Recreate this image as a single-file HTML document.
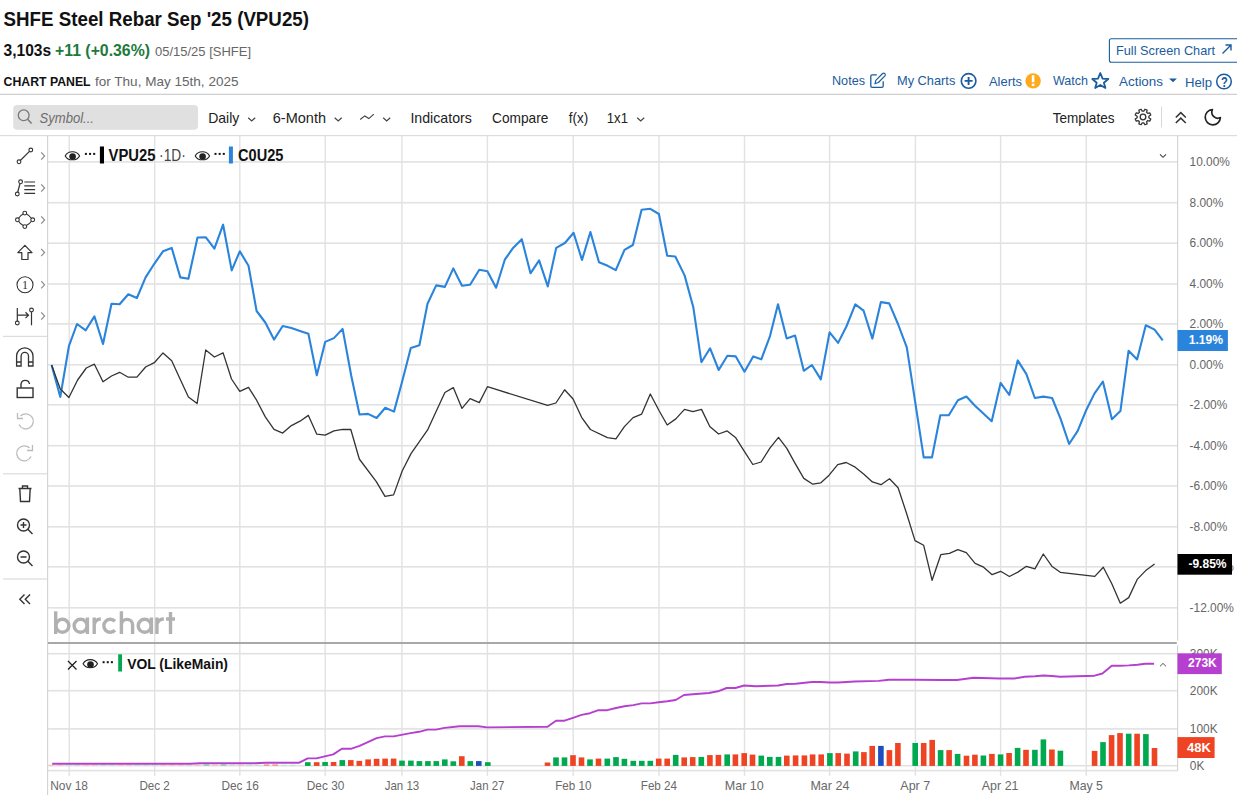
<!DOCTYPE html>
<html><head><meta charset="utf-8"><title>SHFE Steel Rebar Sep '25 (VPU25) Chart</title>
<style>
html,body{margin:0;padding:0;background:#fff;width:1237px;height:795px;overflow:hidden;}
svg{display:block;font-family:"Liberation Sans", sans-serif;}
</style></head><body>
<svg width="1237" height="795" viewBox="0 0 1237 795">
<text x="3.6" y="25.9" font-size="20" fill="#111" font-weight="bold" font-style="normal" text-anchor="start" textLength="305.4" lengthAdjust="spacingAndGlyphs" >SHFE Steel Rebar Sep '25 (VPU25)</text>
<text x="3.6" y="56" font-size="16" fill="#111" font-weight="bold" font-style="normal" text-anchor="start" textLength="47.5" lengthAdjust="spacingAndGlyphs" >3,103s</text>
<text x="55" y="56" font-size="16" fill="#1d7a3c" font-weight="bold" font-style="normal" text-anchor="start" textLength="95" lengthAdjust="spacingAndGlyphs" >+11 (+0.36%)</text>
<text x="155" y="56.1" font-size="13.5" fill="#666" font-weight="normal" font-style="normal" text-anchor="start" textLength="96" lengthAdjust="spacingAndGlyphs" >05/15/25 [SHFE]</text>
<text x="3.6" y="85.9" font-size="13.2" fill="#111" font-weight="bold" font-style="normal" text-anchor="start" textLength="87" lengthAdjust="spacingAndGlyphs" >CHART PANEL</text>
<text x="95" y="85.9" font-size="13.2" fill="#666" font-weight="normal" font-style="normal" text-anchor="start" textLength="143.5" lengthAdjust="spacingAndGlyphs" >for Thu, May 15th, 2025</text>
<rect x="0" y="93.7" width="1237" height="1.3" fill="#d0d0d0"/>
<rect x="1109.4" y="38.7" width="130" height="23.5" rx="2" fill="#fff" stroke="#1a5c9e" stroke-width="1.1"/>
<text x="1116" y="54.8" font-size="13" fill="#1a5c9e" font-weight="normal" font-style="normal" text-anchor="start" textLength="99" lengthAdjust="spacingAndGlyphs" >Full Screen Chart</text>
<path d="M1222.5 53.5 L1231 45 M1225.5 45 H1231 V50.5" stroke="#1a5c9e" stroke-width="1.4" fill="none"/>
<text x="832" y="84.8" font-size="13" fill="#1a5c9e" font-weight="normal" font-style="normal" text-anchor="start" textLength="33" lengthAdjust="spacingAndGlyphs" >Notes</text>
<path d="M876.8 74.8 H872.2 Q870.8 74.8 870.8 76.2 V86 Q870.8 87.3 872.2 87.3 H881.8 Q883.2 87.3 883.2 86 V81.3" fill="none" stroke="#1a5c9e" stroke-width="1.3"/><path d="M875 83.8 L875.8 80.3 L882.6 73.5 Q883.8 72.6 884.9 73.6 Q885.8 74.7 884.9 75.8 L878.4 82.5 Z" fill="none" stroke="#1a5c9e" stroke-width="1.2" stroke-linejoin="round"/>
<text x="897" y="84.8" font-size="13" fill="#1a5c9e" font-weight="normal" font-style="normal" text-anchor="start" textLength="58.3" lengthAdjust="spacingAndGlyphs" >My Charts</text>
<circle cx="968.6" cy="80.9" r="7.3" fill="none" stroke="#1a5c9e" stroke-width="1.6"/><path d="M964.6 80.9 H972.6 M968.6 76.9 V84.9" stroke="#1a5c9e" stroke-width="1.9"/>
<text x="989" y="85.6" font-size="13" fill="#1a5c9e" font-weight="normal" font-style="normal" text-anchor="start" textLength="33" lengthAdjust="spacingAndGlyphs" >Alerts</text>
<circle cx="1033.1" cy="80.9" r="7.7" fill="#fdaa1c"/><rect x="1031.8" y="75.2" width="2.6" height="7" fill="#fff"/><rect x="1031.8" y="83.6" width="2.6" height="2.4" fill="#fff"/>
<text x="1053" y="84.6" font-size="13" fill="#1a5c9e" font-weight="normal" font-style="normal" text-anchor="start" textLength="35" lengthAdjust="spacingAndGlyphs" >Watch</text>
<path d="M1100.3 73 L1102.6 78.6 L1108.3 79 L1103.9 82.7 L1105.4 88 L1100.3 85 L1095.2 88 L1096.7 82.7 L1092.3 79 L1098 78.6 Z" fill="none" stroke="#1a5c9e" stroke-width="1.8" stroke-linejoin="round"/>
<text x="1119" y="85.9" font-size="13" fill="#1a5c9e" font-weight="normal" font-style="normal" text-anchor="start" textLength="44" lengthAdjust="spacingAndGlyphs" >Actions</text>
<path d="M1169 78.5 H1177 L1173 82.3 Z" fill="#1a5c9e"/>
<text x="1185" y="87.1" font-size="13" fill="#1a5c9e" font-weight="normal" font-style="normal" text-anchor="start" textLength="27" lengthAdjust="spacingAndGlyphs" >Help</text>
<circle cx="1224" cy="81.5" r="7.3" fill="none" stroke="#1a5c9e" stroke-width="1.5"/>
<text x="1224.3" y="86.7" font-size="14.5" fill="#1a5c9e" font-weight="bold" font-style="normal" text-anchor="middle" textLength="6.8" lengthAdjust="spacingAndGlyphs" >?</text>
<rect x="13.2" y="105" width="184.8" height="24.8" rx="4" fill="#e0e0e0"/>
<circle cx="23.7" cy="115.3" r="5.4" fill="none" stroke="#777" stroke-width="1.3"/><path d="M27.6 119.3 L31.6 123.6" stroke="#777" stroke-width="1.4"/>
<text x="39.5" y="122.6" font-size="14" fill="#6e6e6e" font-weight="normal" font-style="italic" text-anchor="start" textLength="54.5" lengthAdjust="spacingAndGlyphs" >Symbol...</text>
<text x="208.2" y="122.8" font-size="14.4" fill="#222" font-weight="normal" font-style="normal" text-anchor="start" textLength="31.2" lengthAdjust="spacingAndGlyphs" >Daily</text>
<path d="M248.2 117.7 L251.7 121.0 L255.2 117.7" fill="none" stroke="#444" stroke-width="1.2"/>
<text x="272.8" y="122.8" font-size="14.4" fill="#222" font-weight="normal" font-style="normal" text-anchor="start" textLength="53.2" lengthAdjust="spacingAndGlyphs" >6-Month</text>
<path d="M334.7 117.7 L338.2 121.0 L341.7 117.7" fill="none" stroke="#444" stroke-width="1.2"/>
<path d="M360.2 119.5 L364.7 115.9 L368.9 118.6 L373.8 114.1" fill="none" stroke="#444" stroke-width="1.2"/>
<path d="M383.2 117.7 L386.7 121.0 L390.2 117.7" fill="none" stroke="#444" stroke-width="1.2"/>
<text x="410.4" y="122.8" font-size="14.4" fill="#222" font-weight="normal" font-style="normal" text-anchor="start" textLength="61.5" lengthAdjust="spacingAndGlyphs" >Indicators</text>
<text x="492" y="122.8" font-size="14.4" fill="#222" font-weight="normal" font-style="normal" text-anchor="start" textLength="56.3" lengthAdjust="spacingAndGlyphs" >Compare</text>
<text x="568.8" y="122.8" font-size="14.4" fill="#222" font-weight="normal" font-style="normal" text-anchor="start" textLength="19.4" lengthAdjust="spacingAndGlyphs" >f(x)</text>
<text x="606.8" y="122.8" font-size="14.4" fill="#222" font-weight="normal" font-style="normal" text-anchor="start" textLength="21.2" lengthAdjust="spacingAndGlyphs" >1x1</text>
<path d="M637.2 117.7 L640.7 121.0 L644.2 117.7" fill="none" stroke="#444" stroke-width="1.2"/>
<text x="1052.7" y="123.1" font-size="14.4" fill="#222" font-weight="normal" font-style="normal" text-anchor="start" textLength="61.8" lengthAdjust="spacingAndGlyphs" >Templates</text>
<polygon points="1148.85,117.77 1150.76,118.94 1149.86,121.12 1147.68,120.59 1146.59,121.68 1147.12,123.86 1144.94,124.76 1143.77,122.85 1142.23,122.85 1141.06,124.76 1138.88,123.86 1139.41,121.68 1138.32,120.59 1136.14,121.12 1135.24,118.94 1137.15,117.77 1137.15,116.23 1135.24,115.06 1136.14,112.88 1138.32,113.41 1139.41,112.32 1138.88,110.14 1141.06,109.24 1142.23,111.15 1143.77,111.15 1144.94,109.24 1147.12,110.14 1146.59,112.32 1147.68,113.41 1149.86,112.88 1150.76,115.06 1148.85,116.23" fill="none" stroke="#333" stroke-width="1.3" stroke-linejoin="round"/><circle cx="1143" cy="117" r="2.8" fill="none" stroke="#333" stroke-width="1.3"/>
<rect x="1161" y="106.4" width="1" height="21" fill="#d8d8d8"/>
<path d="M1175.8 117.5 L1180.8 112.6 L1185.8 117.5 M1175.8 123 L1180.8 118.1 L1185.8 123" fill="none" stroke="#333" stroke-width="1.5"/>
<path d="M1212.4 109.6 A7.6 7.6 0 1 0 1220.4 117.6 A6 6 0 0 1 1212.4 109.6 Z" fill="none" stroke="#222" stroke-width="1.7" stroke-linejoin="round"/>
<rect x="0" y="135" width="1237" height="1.2" fill="#dcdcdc"/>
<rect x="68.5" y="136" width="1.4" height="639.8" fill="#e2e2e2"/>
<rect x="154.0" y="136" width="1.4" height="639.8" fill="#e2e2e2"/>
<rect x="239.10000000000002" y="136" width="1.4" height="639.8" fill="#e2e2e2"/>
<rect x="324.5" y="136" width="1.4" height="639.8" fill="#e2e2e2"/>
<rect x="401.2" y="136" width="1.4" height="639.8" fill="#e2e2e2"/>
<rect x="486.7" y="136" width="1.4" height="639.8" fill="#e2e2e2"/>
<rect x="572.5" y="136" width="1.4" height="639.8" fill="#e2e2e2"/>
<rect x="658.3" y="136" width="1.4" height="639.8" fill="#e2e2e2"/>
<rect x="743.8" y="136" width="1.4" height="639.8" fill="#e2e2e2"/>
<rect x="828.9" y="136" width="1.4" height="639.8" fill="#e2e2e2"/>
<rect x="914.6999999999999" y="136" width="1.4" height="639.8" fill="#e2e2e2"/>
<rect x="999.9" y="136" width="1.4" height="639.8" fill="#e2e2e2"/>
<rect x="1085.6" y="136" width="1.4" height="639.8" fill="#e2e2e2"/>
<rect x="48" y="161.1" width="1129.5" height="1.6" fill="#e2e2e2"/>
<text x="1189.6" y="166.1" font-size="11.9" fill="#666" font-weight="normal" font-style="normal" text-anchor="start" >10.00%</text>
<rect x="48" y="201.89999999999998" width="1129.5" height="1.6" fill="#e2e2e2"/>
<text x="1189.6" y="206.89999999999998" font-size="11.9" fill="#666" font-weight="normal" font-style="normal" text-anchor="start" >8.00%</text>
<rect x="48" y="242.39999999999998" width="1129.5" height="1.6" fill="#e2e2e2"/>
<text x="1189.6" y="247.39999999999998" font-size="11.9" fill="#666" font-weight="normal" font-style="normal" text-anchor="start" >6.00%</text>
<rect x="48" y="283.2" width="1129.5" height="1.6" fill="#e2e2e2"/>
<text x="1189.6" y="288.2" font-size="11.9" fill="#666" font-weight="normal" font-style="normal" text-anchor="start" >4.00%</text>
<rect x="48" y="323.09999999999997" width="1129.5" height="1.6" fill="#e2e2e2"/>
<text x="1189.6" y="328.09999999999997" font-size="11.9" fill="#666" font-weight="normal" font-style="normal" text-anchor="start" >2.00%</text>
<rect x="48" y="364.0" width="1129.5" height="1.6" fill="#e2e2e2"/>
<text x="1189.6" y="369.0" font-size="11.9" fill="#666" font-weight="normal" font-style="normal" text-anchor="start" >0.00%</text>
<rect x="48" y="404.0" width="1129.5" height="1.6" fill="#e2e2e2"/>
<text x="1189.6" y="409.0" font-size="11.9" fill="#666" font-weight="normal" font-style="normal" text-anchor="start" >-2.00%</text>
<rect x="48" y="444.9" width="1129.5" height="1.6" fill="#e2e2e2"/>
<text x="1189.6" y="449.9" font-size="11.9" fill="#666" font-weight="normal" font-style="normal" text-anchor="start" >-4.00%</text>
<rect x="48" y="485.2" width="1129.5" height="1.6" fill="#e2e2e2"/>
<text x="1189.6" y="490.2" font-size="11.9" fill="#666" font-weight="normal" font-style="normal" text-anchor="start" >-6.00%</text>
<rect x="48" y="526.0" width="1129.5" height="1.6" fill="#e2e2e2"/>
<text x="1189.6" y="531.0" font-size="11.9" fill="#666" font-weight="normal" font-style="normal" text-anchor="start" >-8.00%</text>
<rect x="48" y="566.0" width="1129.5" height="1.6" fill="#e2e2e2"/>
<text x="1189.6" y="571.0" font-size="11.9" fill="#666" font-weight="normal" font-style="normal" text-anchor="start" >-10.00%</text>
<rect x="48" y="607.0" width="1129.5" height="1.6" fill="#e2e2e2"/>
<text x="1189.6" y="612.0" font-size="11.9" fill="#666" font-weight="normal" font-style="normal" text-anchor="start" >-12.00%</text>
<rect x="48" y="652.9000000000001" width="1129.5" height="1.6" fill="#e2e2e2"/>
<rect x="48" y="689.9000000000001" width="1129.5" height="1.6" fill="#e2e2e2"/>
<rect x="48" y="728.1" width="1129.5" height="1.6" fill="#e2e2e2"/>
<rect x="48" y="764.9000000000001" width="1129.5" height="1.6" fill="#e2e2e2"/>
<rect x="48" y="769.8000000000001" width="1129.5" height="1.6" fill="#e2e2e2"/>
<rect x="47" y="136" width="1.2" height="659" fill="#d4d4d4"/>
<rect x="1177" y="136" width="1.2" height="635" fill="#d4d4d4"/>
<rect x="48" y="642" width="1129.5" height="2" fill="#a8a8a8"/><rect x="1176.8" y="640.5" width="1.6" height="5" fill="#fff"/>
<rect x="305.0" y="762.2" width="5.6" height="3.7" fill="#00a84f"/>
<rect x="313.9" y="762.2" width="5.6" height="3.7" fill="#ee4423"/>
<rect x="322.3" y="762.0" width="5.6" height="3.9" fill="#00a84f"/>
<rect x="330.8" y="762.0" width="5.6" height="3.9" fill="#ee4423"/>
<rect x="339.5" y="760.1" width="5.6" height="5.8" fill="#00a84f"/>
<rect x="348.0" y="760.1" width="5.6" height="5.8" fill="#ee4423"/>
<rect x="356.5" y="760.9" width="5.6" height="5.0" fill="#ee4423"/>
<rect x="365.3" y="759.4" width="5.6" height="6.5" fill="#ee4423"/>
<rect x="373.8" y="758.8" width="5.6" height="7.1" fill="#ee4423"/>
<rect x="382.3" y="758.6" width="5.6" height="7.3" fill="#ee4423"/>
<rect x="390.8" y="758.6" width="5.6" height="7.3" fill="#ee4423"/>
<rect x="399.2" y="760.6" width="5.6" height="5.3" fill="#00a84f"/>
<rect x="408.1" y="760.6" width="5.6" height="5.3" fill="#00a84f"/>
<rect x="416.6" y="761.1" width="5.6" height="4.8" fill="#00a84f"/>
<rect x="425.1" y="761.1" width="5.6" height="4.8" fill="#00a84f"/>
<rect x="433.5" y="761.1" width="5.6" height="4.8" fill="#00a84f"/>
<rect x="442.0" y="759.4" width="5.6" height="6.5" fill="#00a84f"/>
<rect x="450.5" y="761.3" width="5.6" height="4.6" fill="#00a84f"/>
<rect x="459.0" y="756.2" width="5.6" height="9.7" fill="#ee4423"/>
<rect x="467.5" y="761.1" width="5.6" height="4.8" fill="#00a84f"/>
<rect x="476.0" y="761.1" width="5.6" height="4.8" fill="#1f4fbf"/>
<rect x="485.0" y="762.2" width="5.6" height="3.7" fill="#00a84f"/>
<rect x="544.7" y="762.5" width="5.6" height="3.4" fill="#ee4423"/>
<rect x="553.2" y="757.4" width="5.6" height="8.5" fill="#00a84f"/>
<rect x="561.7" y="757.4" width="5.6" height="8.5" fill="#00a84f"/>
<rect x="570.2" y="755.2" width="5.6" height="10.7" fill="#ee4423"/>
<rect x="578.7" y="757.4" width="5.6" height="8.5" fill="#ee4423"/>
<rect x="587.2" y="759.4" width="5.6" height="6.5" fill="#00a84f"/>
<rect x="595.7" y="758.6" width="5.6" height="7.3" fill="#ee4423"/>
<rect x="604.5" y="758.6" width="5.6" height="7.3" fill="#00a84f"/>
<rect x="613.2" y="757.1" width="5.6" height="8.8" fill="#00a84f"/>
<rect x="621.6" y="758.8" width="5.6" height="7.1" fill="#00a84f"/>
<rect x="630.5" y="760.8" width="5.6" height="5.1" fill="#00a84f"/>
<rect x="639.0" y="760.8" width="5.6" height="5.1" fill="#00a84f"/>
<rect x="647.5" y="760.8" width="5.6" height="5.1" fill="#00a84f"/>
<rect x="655.9" y="758.6" width="5.6" height="7.3" fill="#ee4423"/>
<rect x="664.4" y="758.6" width="5.6" height="7.3" fill="#ee4423"/>
<rect x="672.9" y="754.9" width="5.6" height="11.0" fill="#00a84f"/>
<rect x="681.4" y="757.4" width="5.6" height="8.5" fill="#ee4423"/>
<rect x="689.9" y="757.1" width="5.6" height="8.8" fill="#ee4423"/>
<rect x="698.5" y="756.9" width="5.6" height="9.0" fill="#00a84f"/>
<rect x="707.1" y="755.1" width="5.6" height="10.8" fill="#ee4423"/>
<rect x="715.6" y="754.9" width="5.6" height="11.0" fill="#ee4423"/>
<rect x="724.4" y="754.4" width="5.6" height="11.5" fill="#00a84f"/>
<rect x="732.6" y="754.4" width="5.6" height="11.5" fill="#ee4423"/>
<rect x="741.4" y="753.1" width="5.6" height="12.8" fill="#ee4423"/>
<rect x="749.7" y="754.6" width="5.6" height="11.3" fill="#ee4423"/>
<rect x="758.5" y="755.6" width="5.6" height="10.3" fill="#00a84f"/>
<rect x="767.0" y="756.9" width="5.6" height="9.0" fill="#00a84f"/>
<rect x="775.7" y="756.9" width="5.6" height="9.0" fill="#00a84f"/>
<rect x="784.0" y="755.6" width="5.6" height="10.3" fill="#ee4423"/>
<rect x="792.8" y="755.4" width="5.6" height="10.5" fill="#ee4423"/>
<rect x="801.6" y="755.4" width="5.6" height="10.5" fill="#ee4423"/>
<rect x="809.8" y="754.4" width="5.6" height="11.5" fill="#ee4423"/>
<rect x="818.4" y="754.4" width="5.6" height="11.5" fill="#ee4423"/>
<rect x="827.1" y="753.1" width="5.6" height="12.8" fill="#00a84f"/>
<rect x="835.4" y="753.1" width="5.6" height="12.8" fill="#ee4423"/>
<rect x="844.2" y="753.6" width="5.6" height="12.3" fill="#ee4423"/>
<rect x="852.9" y="751.4" width="5.6" height="14.5" fill="#00a84f"/>
<rect x="861.1" y="752.1" width="5.6" height="13.8" fill="#ee4423"/>
<rect x="869.4" y="745.9" width="5.6" height="20.0" fill="#ee4423"/>
<rect x="878.1" y="745.9" width="5.6" height="20.0" fill="#1f4fbf"/>
<rect x="886.6" y="750.1" width="5.6" height="15.8" fill="#ee4423"/>
<rect x="895.1" y="743.0" width="5.6" height="22.9" fill="#ee4423"/>
<rect x="912.4" y="743.0" width="5.6" height="22.9" fill="#00a84f"/>
<rect x="920.9" y="743.0" width="5.6" height="22.9" fill="#ee4423"/>
<rect x="929.4" y="739.9" width="5.6" height="26.0" fill="#ee4423"/>
<rect x="937.8" y="750.1" width="5.6" height="15.8" fill="#00a84f"/>
<rect x="946.3" y="750.1" width="5.6" height="15.8" fill="#ee4423"/>
<rect x="954.8" y="753.9" width="5.6" height="12.0" fill="#00a84f"/>
<rect x="963.7" y="755.7" width="5.6" height="10.2" fill="#ee4423"/>
<rect x="972.1" y="754.7" width="5.6" height="11.2" fill="#ee4423"/>
<rect x="980.6" y="755.5" width="5.6" height="10.4" fill="#00a84f"/>
<rect x="989.1" y="753.9" width="5.6" height="12.0" fill="#ee4423"/>
<rect x="997.8" y="754.4" width="5.6" height="11.5" fill="#00a84f"/>
<rect x="1006.3" y="753.0" width="5.6" height="12.9" fill="#ee4423"/>
<rect x="1014.8" y="747.9" width="5.6" height="18.0" fill="#00a84f"/>
<rect x="1023.2" y="749.8" width="5.6" height="16.1" fill="#ee4423"/>
<rect x="1032.1" y="749.8" width="5.6" height="16.1" fill="#00a84f"/>
<rect x="1040.6" y="739.4" width="5.6" height="26.5" fill="#00a84f"/>
<rect x="1049.1" y="749.5" width="5.6" height="16.4" fill="#ee4423"/>
<rect x="1057.6" y="750.7" width="5.6" height="15.2" fill="#00a84f"/>
<rect x="1091.8" y="750.9" width="5.6" height="15.0" fill="#ee4423"/>
<rect x="1100.2" y="742.1" width="5.6" height="23.8" fill="#00a84f"/>
<rect x="1108.8" y="735.1" width="5.6" height="30.8" fill="#ee4423"/>
<rect x="1117.2" y="733.1" width="5.6" height="32.8" fill="#ee4423"/>
<rect x="1125.9" y="733.7" width="5.6" height="32.2" fill="#00a84f"/>
<rect x="1134.3" y="733.7" width="5.6" height="32.2" fill="#ee4423"/>
<rect x="1143.1" y="734.1" width="5.6" height="31.8" fill="#00a84f"/>
<rect x="1151.7" y="748.0" width="5.6" height="17.9" fill="#ee4423"/>
<rect x="48.8" y="764.7" width="5.6" height="1.2" fill="#f3c5bb"/>
<rect x="57.4" y="764.7" width="5.6" height="1.2" fill="#f3c5bb"/>
<rect x="66.0" y="764.7" width="5.6" height="1.2" fill="#bfe3cb"/>
<rect x="74.6" y="764.7" width="5.6" height="1.2" fill="#bfe3cb"/>
<rect x="83.2" y="764.7" width="5.6" height="1.2" fill="#f3c5bb"/>
<rect x="91.8" y="764.7" width="5.6" height="1.2" fill="#f3c5bb"/>
<rect x="100.4" y="764.7" width="5.6" height="1.2" fill="#bfe3cb"/>
<rect x="109.0" y="764.7" width="5.6" height="1.2" fill="#bfe3cb"/>
<rect x="117.6" y="764.7" width="5.6" height="1.2" fill="#f3c5bb"/>
<rect x="126.2" y="764.7" width="5.6" height="1.2" fill="#f3c5bb"/>
<rect x="134.8" y="764.7" width="5.6" height="1.2" fill="#bfe3cb"/>
<rect x="143.4" y="764.7" width="5.6" height="1.2" fill="#bfe3cb"/>
<rect x="152.0" y="764.7" width="5.6" height="1.2" fill="#bfe3cb"/>
<rect x="160.6" y="764.7" width="5.6" height="1.2" fill="#f3c5bb"/>
<rect x="169.2" y="764.7" width="5.6" height="1.2" fill="#f3c5bb"/>
<rect x="177.8" y="764.7" width="5.6" height="1.2" fill="#f3c5bb"/>
<rect x="186.4" y="764.7" width="5.6" height="1.2" fill="#bfe3cb"/>
<rect x="195.0" y="764.7" width="5.6" height="1.2" fill="#f3c5bb"/>
<rect x="203.6" y="764.3" width="5.6" height="1.6" fill="#8fd3a8"/>
<rect x="212.2" y="764.7" width="5.6" height="1.2" fill="#f3c5bb"/>
<rect x="220.8" y="764.3" width="5.6" height="1.6" fill="#8fd3a8"/>
<rect x="229.4" y="764.7" width="5.6" height="1.2" fill="#bfe3cb"/>
<rect x="238.0" y="764.7" width="5.6" height="1.2" fill="#f3c5bb"/>
<rect x="246.6" y="764.7" width="5.6" height="1.2" fill="#bfe3cb"/>
<rect x="255.2" y="764.7" width="5.6" height="1.2" fill="#bfe3cb"/>
<rect x="263.8" y="764.3" width="5.6" height="1.6" fill="#f29a85"/>
<rect x="272.4" y="764.3" width="5.6" height="1.6" fill="#f29a85"/>
<rect x="281.0" y="764.7" width="5.6" height="1.2" fill="#bfe3cb"/>
<rect x="289.6" y="764.7" width="5.6" height="1.2" fill="#bfe3cb"/>
<polyline points="52.2,763.8 190,763.8 200,763.2 255,763.2 265,762.7 299.3,762.7 307.8,758.4 316.3,758.4 333.3,754.4 341.8,748.8 350.8,748.8 359.6,745.9 376.6,738.1 385.1,736.4 393.6,736.4 410.5,733.1 419,731.8 427.5,729.6 436,729.6 444.5,727.9 459.8,726.2 478.5,726.2 487,727.4 547.5,726.7 556,720.7 564.5,720.7 573,717.8 581.5,714.9 590,713.2 598.5,710.2 607.3,710.2 616,708 624.4,706.3 633.3,705.1 641.8,703.4 650.3,703.4 658.7,702.2 667.2,701.2 675.7,700 684,695 692.8,694.3 709,693 717.9,691.3 726.7,688 735.4,688 744.2,685.5 755.5,686.3 778,685.5 786.8,684 795.6,683.8 811.9,682 820.7,682 829.9,682.5 838.2,682.5 854.5,681.5 878.7,680.9 888.9,679.7 914.3,679.7 941.5,680 956.8,680 973.8,677.7 999.2,678.5 1014.5,678.5 1024.7,676.7 1034.9,676.3 1043.4,675.5 1051.9,676 1060.3,676.7 1094.6,675.7 1102.4,673.5 1111.8,665.7 1120,665.7 1128.7,665.4 1137.5,664.8 1145.3,663.8 1154.1,663.8" fill="none" stroke="#b540cf" stroke-width="1.9" stroke-linejoin="round"/>
<polyline points="51.6,365 60.3,396.9 68.9,346.2 77,324 85.7,330.3 94.4,316.4 103,344 111.5,303.7 119.6,304.3 128.3,294.2 136.9,298 145.6,277.4 154.3,263.8 163,251.3 171.7,247.9 180.3,277.4 188.4,278.8 197.5,237.5 205.7,237.2 214.4,248.7 223.1,224.7 231.7,270.4 239.8,251.3 248.5,265.8 256.6,311 265.3,322.5 274,339.6 282.7,326 291.4,328 300,330.9 308.4,333.8 316.8,375.2 325.2,341.9 333.9,338.1 342.6,328.9 351.3,376 359.5,414.5 368,413.9 376.6,418 385.3,407.8 394,411.6 402.1,381.8 410.8,347.9 419.4,345.3 427.5,303.7 436.2,285.4 444.9,286.9 453.3,268.4 462,285.7 470.1,284.8 479.3,269.8 487.4,271.2 496.1,287.7 504.8,259.7 513.1,247.9 521.8,239.2 530.5,273.3 539.1,260.3 547.8,286.4 556.2,247.9 564.9,243 573.6,232.8 582,260 590.4,232 599,262.3 607.7,265.8 615.8,270.2 624.5,249.9 632.9,245 641.6,209.7 650.3,208.8 658.9,214 667.2,255.7 675.3,256.5 684.6,275.4 693.3,307.2 701.4,362.2 710.1,348.3 718.7,370 727.4,355.8 735.8,356.4 744.5,371.7 753.2,356.4 761.3,359.3 770,336.1 778,304.3 786.7,338.4 795.1,335.5 803.8,370.8 811.9,365 820.8,379.4 829.6,332.3 838.1,342.9 846.4,326.5 855.3,304.4 863.6,310.7 872.4,338.6 880.9,302.1 889.2,303.4 898,324 906.8,347.4 923.7,457.4 932,457.4 940.3,415.3 948.8,415.3 957.9,400.3 966.4,396.5 975,405.7 991.7,421.2 1000.6,382.9 1009.3,395 1017.7,360.4 1026.4,374.1 1034.8,398 1043.5,396.6 1052.1,398 1060.6,418.8 1069.1,444 1077.7,430.9 1086.4,409.7 1094.4,393.6 1102.9,381.5 1111.9,419.2 1120.4,411.1 1128.6,350.7 1137.1,359.4 1145.8,325.2 1154.6,329.6 1162.7,340.3" fill="none" stroke="#2a84dc" stroke-width="2.1" stroke-linejoin="round"/>
<polyline points="51.6,365 60.3,389 68.9,397.5 77.6,380 86.3,368 94.4,364.2 103,381.8 111.5,376 119.6,372.3 128.3,377.2 136.9,377.2 145.6,367 154.3,362.7 163,352.9 171.7,360.7 180.3,379.5 188.4,396.9 197.1,403.5 205.7,350 214.4,357 223.1,352.9 231.5,379 239.8,391.4 248.5,387.4 256.6,400.2 265.3,416.9 274,429.3 282.7,433.1 291.4,425.6 300,421.2 308.4,415.4 316.8,434.2 325.2,435.1 333.9,430.8 342.6,429.3 350.8,429.5 359.3,459 376.3,481.6 385,496.4 393.6,494.9 402.2,471 411,453.6 427.6,429.9 436.2,411.3 444.9,392.5 453.3,387.6 462,408.4 470.1,398.6 479.3,402.6 487.4,386.7 547.6,405.4 555.9,403 564.6,389.8 573.1,399 581.6,417.3 590.4,429.5 607.4,437.6 615.9,438.9 624.4,426.6 633.1,417.6 641.7,414.1 650.3,394 659,410.5 667.2,425 675.8,418.9 684.5,409.4 692.9,411.7 701.5,409.4 709.8,426.5 718.6,434 727.2,430.9 735.8,437.8 744.2,451.2 752.8,464.5 761.1,462 769.9,448.2 778.5,437.4 786.8,448.4 795.5,464.1 803.8,478.4 812.8,484.2 820.6,482.9 829.1,475.2 837.7,464.6 846.2,462.5 855.2,467.2 863.9,474.2 872.4,481.9 881,484.7 889.5,478.8 898.1,487.7 906.6,513.5 915,540.6 923.7,545.3 932.1,580.3 940.8,554.7 949.4,553.3 957.9,549.7 966.3,552.7 975.1,563.3 983.6,567.2 992.1,574.7 1000.6,571.3 1009.4,576.5 1017.9,572.1 1026.4,566.3 1034.9,568.9 1043.3,554 1051.8,566.2 1060.3,572.3 1094.8,576.4 1103.3,567.2 1111.8,583.7 1120.3,603.2 1128.7,597.6 1137.2,579.4 1145.7,570.6 1154.6,564.1" fill="none" stroke="#333" stroke-width="1.3" stroke-linejoin="round"/>
<path d="M65.2 155.9 C67.9 150.3 76.9 150.3 79.60000000000001 155.9 C76.9 161.1 67.9 161.1 65.2 155.9 Z" fill="#fff" stroke="#222" stroke-width="1.1"/><circle cx="72.60000000000001" cy="156.6" r="3.3" fill="#222"/>
<rect x="84.9" y="152.9" width="2" height="2" fill="#111"/><rect x="89.05000000000001" y="152.9" width="2" height="2" fill="#111"/><rect x="93.2" y="152.9" width="2" height="2" fill="#111"/>
<rect x="99.9" y="146.5" width="4.1" height="17" fill="#000"/>
<text x="108.6" y="160.6" font-size="16.8" fill="#111" font-weight="bold" font-style="normal" text-anchor="start" textLength="46.9" lengthAdjust="spacingAndGlyphs" >VPU25</text>
<text x="159.1" y="160.6" font-size="16.5" fill="#444" font-weight="normal" font-style="normal" text-anchor="start" textLength="26.7" lengthAdjust="spacingAndGlyphs" >·1D·</text>
<path d="M195.20000000000002 155.9 C197.9 150.3 206.9 150.3 209.6 155.9 C206.9 161.1 197.9 161.1 195.20000000000002 155.9 Z" fill="#fff" stroke="#222" stroke-width="1.1"/><circle cx="202.6" cy="156.6" r="3.3" fill="#222"/>
<rect x="214.5" y="152.9" width="2" height="2" fill="#111"/><rect x="218.65" y="152.9" width="2" height="2" fill="#111"/><rect x="222.8" y="152.9" width="2" height="2" fill="#111"/>
<rect x="228.9" y="146.5" width="4" height="17" fill="#2a84dc"/>
<text x="238" y="160.6" font-size="16.8" fill="#111" font-weight="bold" font-style="normal" text-anchor="start" textLength="45.4" lengthAdjust="spacingAndGlyphs" >C0U25</text>
<path d="M1160 154.3 L1163 157.3 L1166 154.3" fill="none" stroke="#444" stroke-width="1.1"/>
<path d="M68 661 L76.5 669.5 M76.5 661 L68 669.5" stroke="#222" stroke-width="1.3"/>
<path d="M83.1 663.8 C85.8 658.1999999999999 94.8 658.1999999999999 97.5 663.8 C94.8 669.0 85.8 669.0 83.1 663.8 Z" fill="#fff" stroke="#222" stroke-width="1.1"/><circle cx="90.5" cy="664.5" r="3.3" fill="#222"/>
<rect x="102.6" y="661.2" width="2" height="2" fill="#111"/><rect x="106.75" y="661.2" width="2" height="2" fill="#111"/><rect x="110.89999999999999" y="661.2" width="2" height="2" fill="#111"/>
<rect x="118.2" y="654.3" width="3.8" height="17.2" fill="#00a84f"/>
<text x="127.2" y="669" font-size="15" fill="#111" font-weight="bold" font-style="normal" text-anchor="start" textLength="100.8" lengthAdjust="spacingAndGlyphs" >VOL (LikeMain)</text>
<path d="M1160 666.3 L1163 663.4 L1166 666.3" fill="none" stroke="#555" stroke-width="1"/>
<rect x="1177.5" y="330" width="50.4" height="21" fill="#2a84dc"/>
<text x="1188.7" y="344.1" font-size="12.5" fill="#fff" font-weight="bold" font-style="normal" text-anchor="start" textLength="34.3" lengthAdjust="spacingAndGlyphs" >1.19%</text>
<rect x="1177.5" y="554" width="54.5" height="20.7" fill="#000"/>
<text x="1188.4" y="568.1" font-size="12.5" fill="#fff" font-weight="bold" font-style="normal" text-anchor="start" textLength="38.2" lengthAdjust="spacingAndGlyphs" >-9.85%</text>
<text x="1189.8" y="658.0" font-size="11.9" fill="#666" font-weight="normal" font-style="normal" text-anchor="start" >300K</text>
<text x="1189.8" y="695.3" font-size="11.9" fill="#666" font-weight="normal" font-style="normal" text-anchor="start" >200K</text>
<text x="1189.8" y="733.3" font-size="11.9" fill="#666" font-weight="normal" font-style="normal" text-anchor="start" >100K</text>
<text x="1189.8" y="770.0999999999999" font-size="11.9" fill="#666" font-weight="normal" font-style="normal" text-anchor="start" >0K</text>
<rect x="1177.5" y="653.3" width="44.3" height="20.8" fill="#b63fd0"/>
<text x="1188" y="667.2" font-size="12.5" fill="#fff" font-weight="bold" font-style="normal" text-anchor="start" textLength="28.8" lengthAdjust="spacingAndGlyphs" >273K</text>
<rect x="1177.5" y="737.1" width="37.1" height="20.9" fill="#ee4423"/>
<text x="1187" y="752" font-size="12.5" fill="#fff" font-weight="bold" font-style="normal" text-anchor="start" textLength="24" lengthAdjust="spacingAndGlyphs" >48K</text>
<text x="50.2" y="789.7" font-size="13.6" fill="#696969" font-weight="normal" font-style="normal" text-anchor="start" textLength="37.8" lengthAdjust="spacingAndGlyphs" >Nov 18</text>
<text x="139.4" y="789.7" font-size="13.6" fill="#696969" font-weight="normal" font-style="normal" text-anchor="start" textLength="30.4" lengthAdjust="spacingAndGlyphs" >Dec 2</text>
<text x="221.4" y="789.7" font-size="13.6" fill="#696969" font-weight="normal" font-style="normal" text-anchor="start" textLength="37.4" lengthAdjust="spacingAndGlyphs" >Dec 16</text>
<text x="306.8" y="789.7" font-size="13.6" fill="#696969" font-weight="normal" font-style="normal" text-anchor="start" textLength="37.5" lengthAdjust="spacingAndGlyphs" >Dec 30</text>
<text x="384.7" y="789.7" font-size="13.6" fill="#696969" font-weight="normal" font-style="normal" text-anchor="start" textLength="34.6" lengthAdjust="spacingAndGlyphs" >Jan 13</text>
<text x="470.1" y="789.7" font-size="13.6" fill="#696969" font-weight="normal" font-style="normal" text-anchor="start" textLength="34.3" lengthAdjust="spacingAndGlyphs" >Jan 27</text>
<text x="555.2" y="789.7" font-size="13.6" fill="#696969" font-weight="normal" font-style="normal" text-anchor="start" textLength="36.2" lengthAdjust="spacingAndGlyphs" >Feb 10</text>
<text x="640.8" y="789.7" font-size="13.6" fill="#696969" font-weight="normal" font-style="normal" text-anchor="start" textLength="36.2" lengthAdjust="spacingAndGlyphs" >Feb 24</text>
<text x="724.8" y="789.7" font-size="13.6" fill="#696969" font-weight="normal" font-style="normal" text-anchor="start" textLength="39" lengthAdjust="spacingAndGlyphs" >Mar 10</text>
<text x="810.4" y="789.7" font-size="13.6" fill="#696969" font-weight="normal" font-style="normal" text-anchor="start" textLength="39" lengthAdjust="spacingAndGlyphs" >Mar 24</text>
<text x="900.3" y="789.7" font-size="13.6" fill="#696969" font-weight="normal" font-style="normal" text-anchor="start" textLength="29.9" lengthAdjust="spacingAndGlyphs" >Apr 7</text>
<text x="981.8" y="789.7" font-size="13.6" fill="#696969" font-weight="normal" font-style="normal" text-anchor="start" textLength="36.7" lengthAdjust="spacingAndGlyphs" >Apr 21</text>
<text x="1069.4" y="789.7" font-size="13.6" fill="#696969" font-weight="normal" font-style="normal" text-anchor="start" textLength="33.6" lengthAdjust="spacingAndGlyphs" >May 5</text>
<g fill="none" stroke="#b1b1b1" stroke-width="3.4"><path d="M55.7 611.3 V634"/><circle cx="62.4" cy="625.8" r="6.5"/><circle cx="80.6" cy="625.8" r="6.5"/><path d="M87.4 617.5 V634"/><path d="M94.2 634 V617.5 M94.2 624.5 Q95.5 619 100.8 619"/><path d="M115 621.3 A6.5 6.5 0 1 0 115 630.3"/><path d="M121.4 611.3 V634 M121.4 625 A5.6 5.6 0 0 1 132.6 625 V634"/><circle cx="144.7" cy="625.8" r="6.5"/><path d="M151.4 617.5 V634"/><path d="M156.9 634 V617.5 M156.9 624.5 Q158.2 619 163.8 619"/><path d="M170.5 611.9 V634 M166.1 619 H175"/></g>
<path d="M19.8 161 L30 150.8" stroke="#333" stroke-width="1.2"/><circle cx="19" cy="161.8" r="1.9" fill="#fff" stroke="#333" stroke-width="1.1"/><circle cx="30.8" cy="150" r="1.9" fill="#fff" stroke="#333" stroke-width="1.1"/><path d="M41.2 152.4 L44.6 156 L41.2 159.6" fill="none" stroke="#888" stroke-width="1.1"/>
<path d="M17.5 193 L20 183.5" stroke="#333" stroke-width="1.2"/><circle cx="17.3" cy="194" r="1.9" fill="#fff" stroke="#333" stroke-width="1.1"/><circle cx="20.6" cy="181.8" r="1.9" fill="#fff" stroke="#333" stroke-width="1.1"/><path d="M24.3 182 H35.1 M24.3 185.8 H35.1 M24.3 189.6 H35.1 M24.3 193.4 H35.1" stroke="#333" stroke-width="1.2"/><path d="M41.2 184.4 L44.6 188 L41.2 191.6" fill="none" stroke="#888" stroke-width="1.1"/>
<path d="M24.8 213.1 Q29.5 215.2 32.7 219.8 Q29.5 224.5 24.8 226.6 Q20.1 224.5 17.4 219.8 Q20.1 215.2 24.8 213.1 Z" fill="none" stroke="#333" stroke-width="1.1"/><circle cx="24.8" cy="213.1" r="1.9" fill="#fff" stroke="#333" stroke-width="1.1"/><circle cx="17.4" cy="219.8" r="1.9" fill="#fff" stroke="#333" stroke-width="1.1"/><circle cx="24.8" cy="226.6" r="1.9" fill="#fff" stroke="#333" stroke-width="1.1"/><circle cx="32.7" cy="219.8" r="1.9" fill="#fff" stroke="#333" stroke-width="1.1"/><path d="M41.2 216.4 L44.6 220 L41.2 223.6" fill="none" stroke="#888" stroke-width="1.1"/>
<path d="M24.9 245.3 L32 252.6 H28 V259.5 H21.8 V252.6 H17.8 Z" fill="none" stroke="#333" stroke-width="1.2" stroke-linejoin="round"/><path d="M41.2 248.9 L44.6 252.5 L41.2 256.1" fill="none" stroke="#888" stroke-width="1.1"/>
<circle cx="25" cy="284.8" r="8" fill="none" stroke="#333" stroke-width="1.1"/><text x="25" y="289.3" font-size="12" fill="#333" font-weight="normal" font-style="normal" text-anchor="middle" font-family="Liberation Serif", serif>1</text><path d="M41.2 281.2 L44.6 284.8 L41.2 288.40000000000003" fill="none" stroke="#888" stroke-width="1.1"/>
<path d="M17.3 308 V322.5 M17.3 315.2 H28.5 M25.5 312.3 L28.5 315.2 L25.5 318.1 M31.5 312 V325.3" stroke="#333" stroke-width="1.2" fill="none"/><circle cx="17.3" cy="323" r="1.9" fill="#fff" stroke="#333" stroke-width="1.1"/><circle cx="31.5" cy="310" r="1.9" fill="#fff" stroke="#333" stroke-width="1.1"/><path d="M41.2 312.4 L44.6 316 L41.2 319.6" fill="none" stroke="#888" stroke-width="1.1"/>
<rect x="3" y="335.8" width="44.5" height="1" fill="#d4d4d4"/>
<path d="M16.6 366 V356 A8.2 8.2 0 0 1 33 356 V366 H28.5 V356 A3.7 3.7 0 0 0 21.1 356 V366 Z M16.6 362 H21.1 M28.5 362 H33" fill="none" stroke="#333" stroke-width="1.3"/>
<rect x="17.2" y="388" width="15.8" height="9.5" fill="none" stroke="#333" stroke-width="1.4"/><path d="M21 388 V384 A4.3 4.3 0 0 1 29.5 384" fill="none" stroke="#333" stroke-width="1.4"/>
<path d="M20.5 416 A7.5 7.5 0 1 1 19 424.5" fill="none" stroke="#bbb" stroke-width="1.3"/><path d="M17.5 413 V418.5 H23" fill="none" stroke="#bbb" stroke-width="1.3"/>
<path d="M29.5 448 A7.5 7.5 0 1 0 31 456.5" fill="none" stroke="#bbb" stroke-width="1.3"/><path d="M32.5 445 V450.5 H27" fill="none" stroke="#bbb" stroke-width="1.3"/>
<rect x="3" y="473.3" width="44.5" height="1" fill="#d4d4d4"/>
<path d="M18.5 488.5 H31.5 M22.5 488.5 V486 H27.5 V488.5 M19.8 488.5 L20.5 501.5 H29.5 L30.2 488.5" fill="none" stroke="#333" stroke-width="1.4"/>
<circle cx="23.5" cy="525" r="6" fill="none" stroke="#333" stroke-width="1.4"/><path d="M27.8 529.3 L32.5 534 M20.5 525 H26.5 M23.5 522 V528" stroke="#333" stroke-width="1.4"/>
<circle cx="23.5" cy="557" r="6" fill="none" stroke="#333" stroke-width="1.4"/><path d="M27.8 561.3 L32.5 566 M20.5 557 H26.5" stroke="#333" stroke-width="1.4"/>
<rect x="3" y="578.5" width="44.5" height="1" fill="#d4d4d4"/>
<path d="M24.5 594.5 L19.8 599.3 L24.5 604 M30 594.5 L25.3 599.3 L30 604" fill="none" stroke="#333" stroke-width="1.4"/>
</svg>
</body></html>
